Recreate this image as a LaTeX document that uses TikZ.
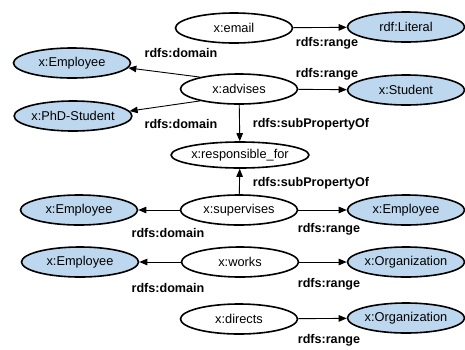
\documentclass[tikz,border=0pt]{standalone}
\usepackage{fontspec}
\setmainfont{Liberation Sans}
\usetikzlibrary{shapes.geometric,arrows.meta}
\definecolor{classfill}{RGB}{189,215,238}
\tikzset{
  prop/.style={ellipse, draw, line width=1.6pt, minimum width=117pt,
    minimum height=30pt, inner sep=0pt, font=\fontsize{12.8}{15}\selectfont},
  cls/.style={prop, fill=classfill},
  lbl/.style={font=\fontsize{12.6}{15}\selectfont\bfseries, inner sep=0pt},
  arr/.style={-{Triangle[length=8pt,width=6.5pt]}, line width=0.9pt},
}
\begin{document}
\begin{tikzpicture}[x=1pt,y=-1pt]
\useasboundingbox (0,0) rectangle (465,349);

% properties
\node[prop] (email) at (234,28) {x:email};
\node[prop] (adv)   at (239,89) {x:advises};
\node[prop, minimum width=120pt, minimum height=26pt] (resp) at (240,155) {x:responsible\_for};
\node[prop] (sup)   at (239,210) {x:supervises};
\node[prop] (works) at (240,262) {x:works};
\node[prop] (dir)   at (239,319) {x:directs};

% classes
\node[cls] (lit)   at (406,27)  {rdf:Literal};
\node[cls] (emp1)  at (72,63)   {x:Employee};
\node[cls] (stud)  at (406,90)  {x:Student};
\node[cls] (phd)   at (73,116)  {x:PhD-Student};
\node[cls] (emp2)  at (79,210)  {x:Employee};
\node[cls] (emp3)  at (406,210) {x:Employee};
\node[cls] (emp4)  at (80,262)  {x:Employee};
\node[cls] (org1)  at (406,262) {x:Organization};
\node[cls] (org2)  at (406,318) {x:Organization};

% connectors
\draw[arr] (email) -- (lit);
\draw[arr] (adv.163) -- (emp1.-5);
\draw[arr] (adv.197) -- (phd.5);
\draw[arr] (adv) -- (stud);
\draw[arr] (adv) -- (resp);
\draw[arr] (sup) -- (resp);
\draw[arr] (sup) -- (emp2);
\draw[arr] (sup) -- (emp3);
\draw[arr] (works) -- (emp4);
\draw[arr] (works) -- (org1);
\draw[arr] (dir) -- (org2);

% edge labels
\node[lbl] (l1)  at (327,43)  {rdfs:range};
\node[lbl] (l2)  at (181,53)  {rdfs:domain};
\node[lbl] (l3)  at (327,74)  {rdfs:range};
\node[lbl] (l4)  at (181,124) {rdfs:domain};
\node[lbl] (l5)  at (311,124) {rdfs:subPropertyOf};
\node[lbl] (l6)  at (311,183) {rdfs:subPropertyOf};
\node[lbl] (l7)  at (168,233) {rdfs:domain};
\node[lbl] (l8)  at (329,229) {rdfs:range};
\node[lbl] (l9)  at (168,288) {rdfs:domain};
\node[lbl] (l10) at (329,284) {rdfs:range};
\node[lbl] (l11) at (329,340) {rdfs:range};
\end{tikzpicture}
\end{document}
